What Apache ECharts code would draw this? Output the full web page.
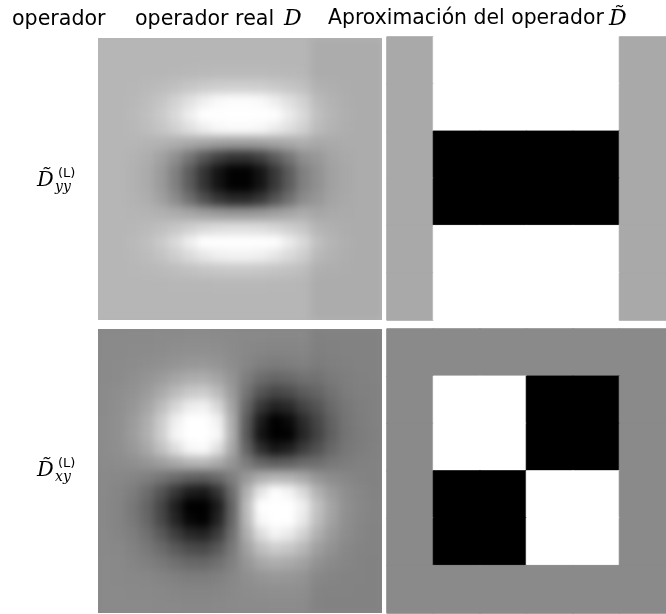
<!DOCTYPE html>
<html><head><meta charset="utf-8">
<script src="https://cdn.jsdelivr.net/npm/echarts@6/dist/echarts.min.js"></script>
<style>
html,body{margin:0;padding:0;background:#fff}
#page{position:relative;width:666px;height:614px;overflow:hidden}
#c{position:absolute;left:0;top:0;width:666px;height:614px}
.clip{position:absolute;overflow:hidden}
.soft{position:absolute;filter:blur(4px)}
</style>
</head><body><div id="page"><div id="c"></div>
<div class="clip" id="w0"><div class="soft" id="s0"></div></div>
<div class="clip" id="w1"><div class="soft" id="s1"></div></div>
</div>
<script>
// Column headers
const headerLabels = ['operador', 'operador real', 'Aproximación del operador'];
const headerSymbols = ['D', 'D\u0303'];
// Row labels (operator names)
const rowSubscripts = ['yy', 'xy'];
const rowSuperscript = '(L)';

// Gray levels (0 = black, 255 = white)
// Real Gaussian second derivative D_yy (20 x 20 samples, rows top -> bottom)
const realDyy = [
  [182,182,182,182,182,182,182,182,182,182,182,182,182,182,182,172,172,172,172,172],
  [182,182,182,182,182,182,182,182,182,182,182,182,182,182,182,172,172,172,172,172],
  [182,182,182,182,182,183,184,185,186,186,186,186,185,184,183,172,172,172,172,172],
  [182,182,183,185,188,192,198,203,206,207,207,206,202,197,192,178,175,173,172,172],
  [182,182,184,189,197,210,225,239,249,252,252,249,238,224,210,187,179,174,172,172],
  [182,182,185,191,202,218,238,255,255,255,255,255,254,236,218,192,181,175,172,172],
  [182,182,184,189,197,209,224,238,247,250,250,247,236,223,209,187,179,174,172,172],
  [182,182,182,180,178,174,169,164,159,157,157,159,164,169,174,168,170,172,172,172],
  [182,182,179,174,162,143,117,88,65,52,52,65,91,117,143,152,164,169,172,172],
  [182,182,178,171,155,128,92,52,20,2,2,20,56,92,128,145,161,168,172,172],
  [182,182,178,171,155,128,92,52,20,2,2,20,56,92,128,145,161,168,172,172],
  [182,182,179,174,161,140,112,81,56,42,42,56,84,112,140,151,164,169,172,172],
  [182,182,181,180,177,173,167,160,155,152,152,155,161,167,173,167,170,171,172,172],
  [182,182,183,186,191,198,207,215,220,222,222,220,214,206,198,181,176,173,172,172],
  [182,182,185,191,202,218,238,255,255,255,255,255,254,236,218,192,181,175,172,172],
  [182,182,184,188,195,206,219,231,239,242,242,239,230,218,206,185,178,174,172,172],
  [182,182,183,184,186,189,193,197,199,200,200,199,196,193,189,176,174,173,172,172],
  [182,182,182,182,182,183,183,183,184,184,184,184,183,183,182,172,172,172,172,172],
  [182,182,182,182,182,182,182,182,182,182,182,182,182,182,182,172,172,172,172,172],
  [182,182,182,182,182,182,182,182,182,182,182,182,182,182,182,172,172,172,172,172]
];
// Real Gaussian second derivative D_xy (20 x 20 samples)
const realDxy = [
  [138,138,138,138,139,139,140,140,139,138,137,137,136,136,137,129,130,130,130,130],
  [138,138,139,139,140,142,143,143,142,139,136,134,133,133,134,128,129,130,130,130],
  [138,139,140,142,144,148,151,152,148,141,134,127,124,126,129,124,127,129,130,130],
  [138,139,143,148,155,164,172,173,164,148,126,109,102,106,114,114,122,126,129,130],
  [139,142,146,155,169,186,200,204,187,155,116,85,71,77,92,101,114,124,128,129],
  [139,143,150,164,187,214,236,241,216,164,103,55,34,42,67,84,106,119,126,129],
  [140,144,155,173,203,239,255,255,241,173,92,28,0,11,43,70,98,117,125,129],
  [140,144,156,175,206,245,255,255,248,175,89,20,0,2,37,66,96,116,124,128],
  [140,143,152,167,192,221,247,251,223,167,100,47,23,32,60,81,104,119,125,129],
  [139,140,143,149,158,169,179,181,170,149,124,103,95,98,108,111,120,125,129,130],
  [137,136,133,127,118,107,97,95,106,127,152,173,181,178,168,149,140,135,131,130],
  [137,133,125,109,84,55,30,25,53,109,176,229,253,244,217,179,156,142,135,131],
  [136,132,120,101,70,31,0,0,28,101,187,255,255,255,239,194,165,144,136,132],
  [136,132,121,103,73,37,7,1,35,103,184,248,255,255,233,190,162,143,135,132],
  [137,133,126,112,90,62,40,35,60,112,173,221,244,234,210,176,154,141,134,131],
  [137,136,130,121,107,90,76,72,89,121,160,191,205,199,184,159,146,136,132,131],
  [138,137,133,128,121,112,104,103,112,128,150,167,174,170,162,146,138,134,131,130],
  [138,137,136,135,132,128,125,125,128,135,143,149,152,151,147,136,133,131,131,130],
  [138,138,137,137,136,134,133,133,134,137,140,142,143,143,142,132,131,131,130,130],
  [138,138,138,138,137,137,136,136,137,138,139,139,140,140,139,131,130,130,130,130]
];
// Box-filter approximation D~_yy (6 x 6 blocks)
const approxDyy = [
  [169,255,255,255,255,169],
  [169,255,255,255,255,169],
  [169,0,0,0,0,169],
  [169,0,0,0,0,169],
  [169,255,255,255,255,169],
  [169,255,255,255,255,169]
];
// Box-filter approximation D~_xy (6 x 6 blocks)
const approxDxy = [
  [138,138,138,138,138,138],
  [138,255,255,0,0,138],
  [138,255,255,0,0,138],
  [138,0,0,255,255,138],
  [138,0,0,255,255,138],
  [138,138,138,138,138,138]
];

function grayHex(v) {
  const h = Math.max(0, Math.min(255, Math.round(v))).toString(16).padStart(2, '0');
  return '#' + h + h + h;
}
function cells(m) {
  const out = [];
  m.forEach((row, r) => row.forEach((v, c) => {
    out.push({value: [c, r, v], itemStyle: {borderColor: grayHex(v), borderWidth: 1}});
  }));
  return out;
}
function idx(n) { return Array.from({length: n}, (_, i) => String(i)); }
const visualMap = {type: 'continuous', show: false, min: 0, max: 255, dimension: 2,
  inRange: {color: ['#000000', '#ffffff']}};

function heatOption(list) {
  const grid = [], xAxis = [], yAxis = [], series = [];
  list.forEach((p, i) => {
    grid.push({left: p.left, top: p.top, width: p.width, height: p.height});
    xAxis.push({type: 'category', gridIndex: i, data: idx(p.m[0].length), show: false});
    yAxis.push({type: 'category', gridIndex: i, data: idx(p.m.length), show: false, inverse: true});
    series.push({type: 'heatmap', xAxisIndex: i, yAxisIndex: i, data: cells(p.m),
      emphasis: {disabled: true}, progressive: 0});
  });
  return {grid, xAxis, yAxis, series};
}

// ---- Main chart: approximations (right column) and texts ----
const sans = '"DejaVu Sans", sans-serif';
const serif = '"DejaVu Serif", "Liberation Serif", serif';
const graphic = [
  {type: 'text', left: 12, top: 9, style: {text: headerLabels[0], font: '20.6px ' + sans, fill: '#000'}},
  {type: 'text', left: 135, top: 9, style: {text: headerLabels[1], font: '20.6px ' + sans, fill: '#000'}},
  {type: 'text', left: 284, top: 8, style: {text: headerSymbols[0], font: 'italic 22px ' + serif, fill: '#000'}},
  {type: 'text', left: 328, top: 9, style: {text: headerLabels[2], font: '20.4px ' + sans, fill: '#000'}},
  {type: 'text', left: 609, top: 8, style: {text: headerSymbols[1], font: 'italic 22px ' + serif, fill: '#000'}}
];
const labelY = [170, 460];
labelY.forEach((y, k) => {
  graphic.push({type: 'text', left: 37, top: y, style: {text: 'D\u0303', font: 'italic 21px ' + serif, fill: '#000'}});
  graphic.push({type: 'text', left: 58, top: y - 3, style: {text: rowSuperscript, font: '13px ' + sans, fill: '#000'}});
  graphic.push({type: 'text', left: 55, top: y + 10, style: {text: rowSubscripts[k], font: 'italic 14px ' + serif, fill: '#000'}});
});

const mainPanels = [
  {m: approxDyy, left: 387, top: 37, width: 284, height: 283},
  {m: approxDxy, left: 387, top: 329, width: 284, height: 284}
];
const main = echarts.init(document.getElementById('c'), null, {renderer: 'canvas'});
main.setOption(Object.assign({animation: false, backgroundColor: '#fff', graphic, visualMap},
  heatOption(mainPanels)));

// ---- Real operators (left column), rendered smoothly ----
const pad = 12;
const realPanels = [
  {m: realDyy, left: 98, top: 38, width: 284, height: 282, bg: '#b4b4b4'},
  {m: realDxy, left: 98, top: 329, width: 284, height: 284, bg: '#878787'}
];
realPanels.forEach((p, i) => {
  const w = document.getElementById('w' + i);
  Object.assign(w.style, {left: p.left + 'px', top: p.top + 'px', width: p.width + 'px', height: p.height + 'px'});
  const s = document.getElementById('s' + i);
  Object.assign(s.style, {left: -pad + 'px', top: -pad + 'px', width: (p.width + 2 * pad) + 'px', height: (p.height + 2 * pad) + 'px'});
  const ch = echarts.init(s, null, {renderer: 'canvas'});
  ch.setOption(Object.assign({animation: false, backgroundColor: p.bg, visualMap},
    heatOption([{m: p.m, left: pad, top: pad, width: p.width, height: p.height}])));
});
</script></body></html>
